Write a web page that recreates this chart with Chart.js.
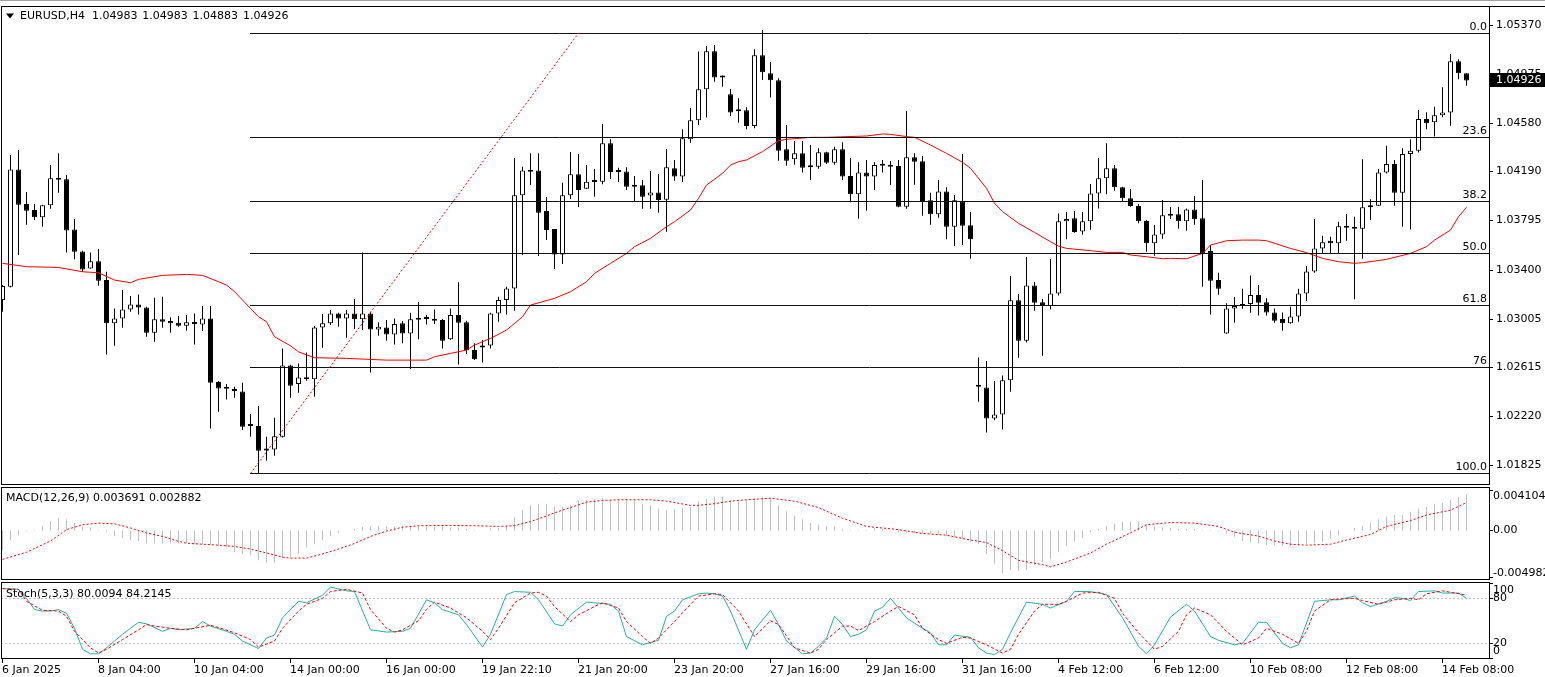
<!DOCTYPE html>
<html>
<head>
<meta charset="utf-8">
<title>EURUSD,H4</title>
<script src="https://cdn.jsdelivr.net/npm/chart.js@4.4.1/dist/chart.umd.min.js"></script>
<style>
  html, body { margin:0; padding:0; background:#ffffff; }
  body { width:1545px; height:677px; position:relative; overflow:hidden; }
  canvas { position:absolute; left:0; display:block; }
  #mainC { top:0; }
  #macdC { top:486px; }
  #stochC { top:580px; }
</style>
</head>
<body>
<canvas id="mainC" width="1545" height="486"></canvas>
<canvas id="macdC" width="1545" height="94"></canvas>
<canvas id="stochC" width="1545" height="97"></canvas>
<script>
// ---------------- DATA ----------------
const symbolText = "EURUSD,H4";
const timeLabels = ["6 Jan 2025","8 Jan 04:00","10 Jan 04:00","14 Jan 00:00","16 Jan 00:00","19 Jan 22:10",
  "21 Jan 20:00","23 Jan 20:00","27 Jan 16:00","29 Jan 16:00","31 Jan 16:00","4 Feb 12:00",
  "6 Feb 12:00","10 Feb 08:00","12 Feb 08:00","14 Feb 08:00"];
const labelEvery = 12;

const openP = [1.03158,1.03266,1.04210,1.03931,1.03883,1.03824,1.03921,1.04138,1.04130,1.03727,
1.03550,1.03413,1.03470,1.03319,1.02971,1.03011,1.03083,1.03123,1.03099,1.02895,
1.03003,1.02989,1.02976,1.02952,1.02981,1.02962,1.03011,1.02498,1.02450,1.02431,
1.02423,1.02149,1.02144,1.01953,1.01956,1.02058,1.02632,1.02482,1.02536,1.02522,
1.02938,1.02971,1.03051,1.03011,1.03051,1.03003,1.03051,1.02922,1.02938,1.02882,
1.02971,1.02890,1.03011,1.03011,1.03003,1.02997,1.02842,1.03038,1.02979,1.02756,
1.02777,1.02793,1.03051,1.03158,1.03252,1.04001,1.04202,1.04202,1.03875,1.03730,
1.03526,1.04001,1.04170,1.04055,1.04114,1.04111,1.04420,1.04194,1.04194,1.04082,
1.04082,1.03999,1.04025,1.03966,1.04219,1.04152,1.04452,1.04605,1.04855,1.05161,
1.04959,1.04814,1.04688,1.04686,1.04559,1.05128,1.04983,1.04927,1.04372,1.04291,
1.04339,1.04237,1.04232,1.04347,1.04264,1.04372,1.04157,1.04009,1.04186,1.04152,
1.04251,1.04245,1.04237,1.03910,1.04307,1.04275,1.03961,1.03848,1.04033,1.03749,
1.03953,1.03760,1.02466,1.02455,1.02206,1.02238,1.02514,1.03156,1.02831,1.03276,
1.03140,1.03110,1.03212,1.03792,1.03816,1.03711,1.03792,1.04017,1.04138,1.04219,
1.04066,1.03977,1.03915,1.03795,1.03615,1.03687,1.03848,1.03848,1.03792,1.03888,
1.03816,1.03553,1.03319,1.02890,1.03091,1.03126,1.03126,1.03199,1.03140,1.03059,
1.03005,1.02971,1.03027,1.03212,1.03389,1.03574,1.03636,1.03615,1.03752,1.03746,
1.03733,1.03915,1.03918,1.04186,1.04253,1.04023,1.04334,1.04361,1.04616,1.04589,
1.04645,1.04667,1.05080,1.04983];

const highP = [1.03279,1.04326,1.04366,1.04028,1.03931,1.03926,1.04245,1.04339,1.04165,1.03811,
1.03556,1.03542,1.03569,1.03387,1.03091,1.03239,1.03191,1.03204,1.03105,1.03177,
1.03185,1.03021,1.03030,1.03038,1.03051,1.03110,1.03110,1.02506,1.02482,1.02461,
1.02493,1.02241,1.02305,1.02058,1.02211,1.02769,1.02638,1.02648,1.02737,1.02949,
1.03046,1.03078,1.03056,1.03078,1.03166,1.03542,1.03064,1.02979,1.02997,1.03011,
1.02989,1.03056,1.03142,1.03038,1.03083,1.03005,1.03091,1.03301,1.02992,1.02810,
1.02836,1.03056,1.03185,1.03266,1.04302,1.04232,1.04339,1.04339,1.03988,1.03730,
1.04103,1.04350,1.04334,1.04245,1.04213,1.04576,1.04452,1.04224,1.04227,1.04157,
1.04125,1.04197,1.04173,1.04374,1.04286,1.04533,1.04704,1.05158,1.05204,1.05212,
1.04965,1.04857,1.04782,1.04710,1.05177,1.05332,1.05075,1.04943,1.04567,1.04439,
1.04439,1.04407,1.04380,1.04353,1.04393,1.04428,1.04302,1.04267,1.04286,1.04267,
1.04286,1.04278,1.04286,1.04680,1.04339,1.04318,1.04023,1.04125,1.04066,1.04004,
1.04334,1.03867,1.02697,1.02667,1.02506,1.02552,1.03352,1.03207,1.03505,1.03303,
1.03166,1.03488,1.03856,1.03867,1.03875,1.03867,1.04092,1.04302,1.04420,1.04245,
1.04071,1.04052,1.03931,1.03803,1.03762,1.03964,1.03907,1.03910,1.03896,1.03996,
1.04125,1.03601,1.03378,1.03132,1.03183,1.03250,1.03357,1.03279,1.03172,1.03091,
1.03059,1.03105,1.03250,1.03432,1.03811,1.03676,1.03668,1.03789,1.03851,1.03829,
1.04291,1.03969,1.04213,1.04401,1.04286,1.04380,1.04452,1.04688,1.04670,1.04715,
1.04871,1.05139,1.05096,1.04983];

const lowP = [1.03064,1.03260,1.03521,1.03765,1.03803,1.03749,1.03894,1.04023,1.03542,1.03486,
1.03387,1.03411,1.03274,1.02721,1.02791,1.02936,1.03064,1.03043,1.02863,1.02823,
1.02936,1.02895,1.02944,1.02911,1.02801,1.02909,1.02125,1.02259,1.02359,1.02372,
1.02112,1.02058,1.01763,1.01865,1.01905,1.02053,1.02372,1.02412,1.02509,1.02380,
1.02775,1.02957,1.02944,1.02855,1.02925,1.02917,1.02576,1.02871,1.02831,1.02801,
1.02810,1.02603,1.02844,1.02962,1.02965,1.02769,1.02836,1.02640,1.02724,1.02675,
1.02656,1.02769,1.02984,1.03043,1.03072,1.03521,1.04084,1.03513,1.03641,1.03408,
1.03448,1.03972,1.03907,1.04052,1.03990,1.04090,1.04133,1.04108,1.04044,1.03956,
1.03894,1.03894,1.03862,1.03709,1.04119,1.04108,1.04425,1.04567,1.04627,1.04916,
1.04876,1.04640,1.04586,1.04533,1.04541,1.04930,1.04788,1.04280,1.04240,1.04248,
1.04186,1.04125,1.04216,1.04253,1.04248,1.04125,1.03945,1.03813,1.03878,1.04044,
1.04184,1.04084,1.03905,1.03894,1.04087,1.03837,1.03765,1.03821,1.03647,1.03593,
1.03601,1.03491,1.02340,1.02093,1.02192,1.02117,1.02420,1.02694,1.02817,1.03072,
1.02710,1.03083,1.03196,1.03647,1.03701,1.03685,1.03725,1.03896,1.04009,1.04039,
1.03956,1.03910,1.03776,1.03548,1.03515,1.03652,1.03811,1.03733,1.03717,1.03765,
1.03266,1.03043,1.03201,1.02887,1.02976,1.03089,1.03056,1.03035,1.03035,1.02976,
1.02911,1.02968,1.02984,1.03150,1.03378,1.03534,1.03534,1.03534,1.03636,1.03164,
1.03491,1.03803,1.03915,1.04176,1.03918,1.03749,1.03727,1.04345,1.04533,1.04474,
1.04629,1.04562,1.04935,1.04883];

const closeP = [1.03271,1.04210,1.03926,1.03878,1.03824,1.03921,1.04138,1.04127,1.03719,1.03548,
1.03405,1.03470,1.03314,1.02971,1.03011,1.03083,1.03123,1.03099,1.02895,1.03003,
1.02984,1.02971,1.02952,1.02979,1.02965,1.03011,1.02493,1.02447,1.02444,1.02426,
1.02138,1.02144,1.01945,1.01948,1.02063,1.02632,1.02469,1.02536,1.02522,1.02938,
1.02971,1.03051,1.03011,1.03051,1.03003,1.03051,1.02922,1.02944,1.02882,1.02965,
1.02890,1.03003,1.03000,1.03005,1.02992,1.02831,1.03038,1.02976,1.02756,1.02683,
1.02793,1.03051,1.03158,1.03252,1.04001,1.04202,1.04192,1.03862,1.03722,1.03526,
1.04001,1.04170,1.04044,1.04111,1.04108,1.04420,1.04189,1.04189,1.04071,1.04071,
1.03990,1.04025,1.03964,1.04227,1.04152,1.04460,1.04605,1.04855,1.05161,1.04949,
1.04949,1.04667,1.04677,1.04559,1.05128,1.04992,1.04927,1.04361,1.04280,1.04339,
1.04224,1.04227,1.04347,1.04264,1.04372,1.04152,1.04009,1.04186,1.04152,1.04245,
1.04240,1.04232,1.03910,1.04307,1.04272,1.03956,1.03848,1.04033,1.03749,1.03961,
1.03757,1.03647,1.02461,1.02206,1.02238,1.02514,1.03156,1.02831,1.03276,1.03137,
1.03110,1.03212,1.03792,1.03811,1.03706,1.03792,1.04017,1.04138,1.04219,1.04066,
1.03977,1.03915,1.03792,1.03615,1.03687,1.03840,1.03837,1.03792,1.03888,1.03808,
1.03534,1.03314,1.03250,1.03091,1.03110,1.03110,1.03199,1.03137,1.03059,1.02992,
1.02971,1.03027,1.03212,1.03389,1.03574,1.03623,1.03615,1.03752,1.03741,1.03733,
1.03905,1.03905,1.04186,1.04253,1.04023,1.04334,1.04361,1.04616,1.04581,1.04645,
1.04667,1.05080,1.04983,1.04926];

// moving average (red line) read at these bars
const maIdx = [0,3,7,10,12,14,16,17,20,23,25,27,28,29,31,32,33,34,36,37,39,43,48,53,54,56,58,59,61,63,
65,66,69,71,73,74,76,78,79,81,83,84,86,87,88,90,91,92,93,95,97,98,101,103,108,110,111,113,114,116,
118,120,121,123,124,125,127,129,131,132,133,136,138,140,141,143,145,146,148,150,151,153,155,157,158,161,
163,165,167,169,170,173,176,178,179,181,182,183];
const maVal = [1.03454,1.03427,1.03421,1.03386,1.03378,1.03319,1.03298,1.03325,1.03357,1.03365,
1.03357,1.03306,1.03279,1.03226,1.03091,1.03024,1.02984,1.02863,1.02790,1.02742,
1.02694,1.02689,1.02675,1.02675,1.02702,1.02729,1.02756,1.02796,1.02850,1.02917,
1.03024,1.03118,1.03172,1.03226,1.03306,1.03373,1.03454,1.03534,1.03588,1.03655,
1.03749,1.03789,1.03883,1.03977,1.04084,1.04178,1.04245,1.04272,1.04286,1.04353,
1.04441,1.04452,1.04468,1.04468,1.04479,1.04495,1.04492,1.04474,1.04468,1.04406,
1.04339,1.04267,1.04219,1.04058,1.03937,1.03870,1.03776,1.03703,1.03628,1.03593,
1.03574,1.03556,1.03542,1.03542,1.03521,1.03507,1.03491,1.03494,1.03491,1.03534,
1.03601,1.03636,1.03641,1.03641,1.03636,1.03574,1.03540,1.03494,1.03467,1.03454,
1.03459,1.03486,1.03534,1.03588,1.03641,1.03722,1.03829,1.03905];

// Fibonacci retracement
const fibHigh = 1.05306, fibLow = 1.01763;
const fibStartBar = 31, fibEndBar = 72;
const fibLevels = [0, 23.6, 38.2, 50, 61.8, 76, 100];
const fibTexts = ["0.0", "23.6", "38.2", "50.0", "61.8", "76", "100.0"];

const priceTicks = [1.05370,1.04975,1.04580,1.04190,1.03795,1.03400,1.03005,1.02615,1.02220,1.01825];

// MACD(12,26,9)
const macdHist = [-0.00206,-0.00097,-0.00050,-0.00007,0.00010,0.00050,0.00100,0.00127,0.00117,0.00077,
0.00043,0.00033,0.00010,-0.00013,-0.00057,-0.00073,-0.00097,-0.00107,-0.00133,-0.00133,
-0.00133,-0.00133,-0.00133,-0.00133,-0.00133,-0.00140,-0.00140,-0.00157,-0.00173,-0.00223,
-0.00240,-0.00256,-0.00306,-0.00330,-0.00330,-0.00283,-0.00273,-0.00233,-0.00173,-0.00140,
-0.00097,-0.00057,-0.00023,0.00000,0.00017,0.00037,0.00040,0.00050,0.00043,0.00043,
0.00050,0.00043,0.00043,0.00037,0.00037,0.00043,0.00033,0.00027,0.00017,0.00010,
0.00003,0.00023,0.00027,0.00043,0.00137,0.00210,0.00260,0.00276,0.00276,0.00250,
0.00243,0.00260,0.00310,0.00316,0.00326,0.00333,0.00316,0.00326,0.00326,0.00316,
0.00276,0.00260,0.00226,0.00210,0.00220,0.00233,0.00243,0.00303,0.00326,0.00350,
0.00350,0.00310,0.00303,0.00310,0.00336,0.00350,0.00333,0.00260,0.00200,0.00153,
0.00117,0.00077,0.00060,0.00043,0.00043,0.00020,0.00010,0.00010,0.00007,0.00027,
0.00020,0.00010,-0.00023,-0.00017,-0.00030,-0.00030,-0.00030,-0.00040,-0.00057,-0.00073,
-0.00090,-0.00117,-0.00140,-0.00240,-0.00340,-0.00440,-0.00406,-0.00416,-0.00406,-0.00356,
-0.00323,-0.00296,-0.00223,-0.00157,-0.00113,-0.00073,-0.00017,0.00017,0.00050,0.00070,
0.00093,0.00093,0.00093,0.00060,0.00043,0.00033,0.00027,0.00017,0.00017,0.00017,
0.00010,0.00010,-0.00007,-0.00030,-0.00063,-0.00107,-0.00123,-0.00133,-0.00147,-0.00150,
-0.00157,-0.00163,-0.00157,-0.00140,-0.00130,-0.00117,-0.00083,-0.00050,0.00000,0.00027,
0.00050,0.00083,0.00117,0.00143,0.00160,0.00160,0.00193,0.00226,0.00243,0.00276,
0.00283,0.00316,0.00343,0.003691];
const sigIdx = [0,3,6,8,10,12,14,16,18,20,22,23,25,27,29,31,33,35,36,38,40,42,44,46,48,50,52,56,59,62,
64,66,68,69,71,73,75,77,81,83,86,87,89,91,93,96,99,102,105,108,112,115,118,121,123,125,127,130,131,133,
136,138,141,143,146,149,152,154,157,159,161,163,166,168,171,173,176,178,181,183];
const sigVal = [-0.00296,-0.00223,-0.00107,0.00010,0.00060,0.00077,0.00070,0.00027,-0.00023,-0.00060,
-0.00110,-0.00130,-0.00140,-0.00150,-0.00163,-0.00190,-0.00230,-0.00273,-0.00283,-0.00283,
-0.00240,-0.00190,-0.00133,-0.00060,-0.00005,0.00035,0.00050,0.00053,0.00050,0.00043,
0.00050,0.00093,0.00150,0.00183,0.00237,0.00293,0.00310,0.00317,0.00317,0.00303,
0.00260,0.00260,0.00277,0.00303,0.00317,0.00333,0.00303,0.00237,0.00127,0.00043,
0.00010,-0.00030,-0.00047,-0.00097,-0.00123,-0.00207,-0.00306,-0.00350,-0.00373,-0.00323,
-0.00230,-0.00140,-0.00023,0.00060,0.00083,0.00077,0.00043,-0.00017,-0.00057,-0.00107,
-0.00140,-0.00150,-0.00140,-0.00097,-0.00040,0.00043,0.00103,0.00160,0.00210,0.002882];
const macdAxisLabels = [0.004104, 0, -0.004982];

// Stochastic(5,3,3)
const stIdx = [0,2,3,4,5,6,7,8,9,10,11,12,13,14,15,16,17,18,20,21,22,24,25,26,28,29,30,32,33,34,
35,37,38,40,41,43,44,46,48,50,51,53,54,55,57,58,60,61,63,64,66,67,69,70,71,73,74,76,77,78,
80,82,83,84,85,87,88,89,90,91,93,94,96,97,98,100,101,102,103,104,105,106,107,108,109,110,111,112,113,115,
116,117,118,119,121,122,123,124,125,126,128,130,131,133,134,136,138,140,142,143,144,146,148,149,151,152,154,155,157,158,
160,161,162,164,166,167,169,170,171,173,174,175,176,177,179,180,182,183];
const stVal = [93,92,80,65,63,63,65,60,40,12,6,6,14,23,32,40,48,46,36,40,
38,40,49,43,36,32,23,13,27,31,54,76,74,84,95,90,89,38,35,36,
40,78,74,65,58,45,15,32,85,89,88,78,46,43,58,75,74,72,63,29,
18,24,56,63,78,86,87,86,83,63,12,38,64,45,23,6,7,16,27,56,
45,29,32,38,63,68,80,67,54,40,34,18,18,31,28,14,7,5,12,34,
75,72,67,76,89,89,85,54,16,6,18,55,72,63,29,24,18,20,48,48,
20,14,18,76,78,78,83,74,69,76,81,80,77,89,90,87,87,80.0094];
const ssIdx = [0,2,3,5,7,8,9,11,12,13,15,17,18,19,21,23,24,26,27,29,31,32,34,35,37,38,40,41,43,45,
46,48,49,50,52,53,54,56,58,60,61,62,64,66,67,68,69,71,72,74,75,77,78,80,81,82,84,86,87,89,
90,92,94,96,97,98,99,101,102,103,105,106,107,109,111,112,114,115,117,118,120,121,123,125,126,127,129,130,132,133,
135,137,139,140,142,144,145,147,148,149,151,153,155,157,158,160,162,163,164,166,167,169,170,172,174,176,177,178,180,181,183];
const ssVal = [93,92,76,64,63,56,36,14,7,12,25,38,45,43,40,38,40,44,41,34,
25,15,23,40,63,72,80,89,92,87,65,40,35,38,50,65,75,67,54,36,
25,40,74,87,88,83,69,49,58,69,74,67,49,29,20,27,49,72,83,86,
85,63,29,50,45,30,14,7,12,25,43,43,37,49,63,69,58,40,25,20,
28,27,18,7,12,32,63,72,72,76,87,88,80,60,34,12,16,36,58,67,
58,36,18,27,40,32,20,36,63,78,79,80,77,72,78,80,78,86,90,88,84.2145];
const stochAxisLabels = [100, 80, 20, 0];
const stochLevels = [80, 20];

// ---------------- RENDERING ----------------
const FONT = '11px "DejaVu Sans", "Liberation Sans", sans-serif';
const X_MIN = -0.1875, X_MAX = 185.8125;
const PRICE_MIN = 1.01670, PRICE_MAX = 1.05525;
const MACD_MIN = -0.00498, MACD_MAX = 0.00428;
const LAST = closeP.length - 1;
const fibPrice = l => fibHigh - (fibHigh - fibLow) * l / 100;

function commonOptions(yMin, yMax, pad) {
  return {
    responsive: false, maintainAspectRatio: false, animation: false, devicePixelRatio: 1,
    events: [],
    layout: { padding: pad },
    plugins: { legend: { display: false }, tooltip: { enabled: false } },
    scales: {
      x: { type: 'linear', min: X_MIN, max: X_MAX, display: false, offset: false, bounds: 'data', grid: { display: false } },
      y: { type: 'linear', min: yMin, max: yMax, display: false, beginAtZero: false, bounds: 'data' }
    }
  };
}
function whiteBg(chart) {
  const c = chart.ctx; c.save(); c.fillStyle = '#ffffff'; c.fillRect(0, 0, chart.width, chart.height); c.restore();
}

// ---- main price pane ----
const mainDeco = {
  id: 'mainDeco',
  beforeDraw: whiteBg,
  afterDatasetsDraw(chart) {
    const { ctx, chartArea: a, scales: { x, y } } = chart;
    ctx.save();
    ctx.beginPath(); ctx.rect(a.left, a.top, a.right - a.left, a.bottom - a.top); ctx.clip();
    ctx.lineWidth = 1; ctx.strokeStyle = '#111111';
    const xs = Math.round(x.getPixelForValue(fibStartBar));
    fibLevels.forEach(l => {
      const py = Math.floor(y.getPixelForValue(fibPrice(l))) + 0.5;
      ctx.beginPath(); ctx.moveTo(xs, py); ctx.lineTo(a.right, py); ctx.stroke();
    });
    ctx.strokeStyle = '#ff0000'; ctx.setLineDash([2, 2]);
    ctx.beginPath();
    ctx.moveTo(x.getPixelForValue(fibStartBar), y.getPixelForValue(fibLow));
    ctx.lineTo(x.getPixelForValue(fibEndBar), y.getPixelForValue(fibHigh));
    ctx.stroke();
    ctx.restore();
  },
  afterDraw(chart) {
    const { ctx, chartArea: a, scales: { y } } = chart;
    ctx.save();
    ctx.fillStyle = '#a0a0a0'; ctx.fillRect(0, 0, chart.width, 1);
    ctx.strokeStyle = '#000'; ctx.lineWidth = 1;
    ctx.strokeRect(a.left + 0.5, a.top + 0.5, a.right - a.left, a.bottom - a.top - 1);
    ctx.beginPath(); ctx.moveTo(a.right, a.top + 0.5); ctx.lineTo(chart.width, a.top + 0.5); ctx.stroke();
    ctx.font = FONT; ctx.fillStyle = '#000'; ctx.textAlign = 'left'; ctx.textBaseline = 'middle';
    priceTicks.forEach(v => {
      const py = Math.floor(y.getPixelForValue(v)) + 0.5;
      ctx.beginPath(); ctx.moveTo(a.right + 1, py); ctx.lineTo(a.right + 4, py); ctx.stroke();
      ctx.fillText(v.toFixed(5), a.right + 7, py);
    });
    ctx.textAlign = 'right'; ctx.textBaseline = 'alphabetic';
    fibLevels.forEach((l, k) => {
      const py = Math.floor(y.getPixelForValue(fibPrice(l)));
      ctx.fillText(fibTexts[k], a.right - 2, py - 3);
    });
    const last = closeP[LAST];
    const cy = Math.round(y.getPixelForValue(last));
    ctx.fillStyle = '#000';
    ctx.fillRect(a.right + 1, cy - 7, chart.width - a.right - 1, 14);
    ctx.fillStyle = '#fff'; ctx.textAlign = 'left'; ctx.textBaseline = 'middle';
    ctx.fillText(last.toFixed(5), a.right + 7, cy);
    ctx.fillStyle = '#000';
    ctx.beginPath(); ctx.moveTo(6, 13.5); ctx.lineTo(14, 13.5); ctx.lineTo(10, 18.5); ctx.closePath(); ctx.fill();
    ctx.fillText(symbolText, 20, 16.5);
    [openP[LAST], highP[LAST], lowP[LAST], closeP[LAST]].forEach((v, k) => {
      ctx.fillText(v.toFixed(5), 92 + k * 50.3, 16.5);
    });
    ctx.restore();
  }
};

const bars = closeP.map((c, i) => i);
new Chart(document.getElementById('mainC'), {
  type: 'bar',
  data: {
    datasets: [
      { type: 'bar', data: bars.map(i => ({ x: i, y: [lowP[i], highP[i]] })),
        backgroundColor: '#000', borderWidth: 0, barThickness: 1, maxBarThickness: 1,
        grouped: false, inflateAmount: 0, order: 3 },
      { type: 'bar', data: bars.map(i => ({ x: i, y: [openP[i], closeP[i]] })),
        backgroundColor: bars.map(i => closeP[i] >= openP[i] ? '#ffffff' : '#000000'),
        borderColor: '#000', borderWidth: 1, borderSkipped: false, minBarLength: 2,
        barThickness: 5, maxBarThickness: 5, grouped: false, inflateAmount: 0, order: 2 },
      { type: 'line', data: maIdx.map((x, k) => ({ x, y: maVal[k] })),
        borderColor: '#ff0000', borderWidth: 1, pointRadius: 0, pointHoverRadius: 0, tension: 0, fill: false, order: 1 }
    ]
  },
  options: commonOptions(PRICE_MIN, PRICE_MAX, { left: 1, right: 56, top: 6, bottom: 1 }),
  plugins: [mainDeco]
});

// ---- MACD pane ----
const macdDeco = {
  id: 'macdDeco',
  beforeDraw: whiteBg,
  afterDraw(chart) {
    const { ctx, chartArea: a, scales: { y } } = chart;
    ctx.save();
    ctx.strokeStyle = '#000'; ctx.lineWidth = 1;
    ctx.strokeRect(a.left + 0.5, 1.5, a.right - a.left, chart.height - 2);
    ctx.font = FONT; ctx.fillStyle = '#000'; ctx.textAlign = 'left'; ctx.textBaseline = 'middle';
    ctx.fillText('MACD(12,26,9) ' + macdHist[LAST].toFixed(6) + ' ' + sigVal[sigVal.length - 1].toFixed(6), 6, 12.5);
    macdAxisLabels.forEach((v, k) => {
      const p = y.getPixelForValue(v);
      const off = k === 0 ? 6 : (k === macdAxisLabels.length - 1 ? -6 : 0);
      const tk = Math.min(Math.floor(p), chart.height - 3) + 0.5;
      ctx.beginPath(); ctx.moveTo(a.right + 1, tk); ctx.lineTo(a.right + 4, tk); ctx.stroke();
      ctx.fillText(v === 0 ? '0.00' : v.toFixed(6), a.right + 4, Math.floor(p + off) + 0.5);
    });
    ctx.restore();
  }
};
new Chart(document.getElementById('macdC'), {
  type: 'bar',
  data: {
    datasets: [
      { type: 'bar', data: macdHist.map((v, i) => ({ x: i, y: v })),
        backgroundColor: '#c0c0c0', borderWidth: 0, barThickness: 1, maxBarThickness: 1,
        grouped: false, inflateAmount: 0, order: 2 },
      { type: 'line', data: sigIdx.map((x, k) => ({ x, y: sigVal[k] })),
        borderColor: '#ff0000', borderWidth: 1, borderDash: [2, 2], pointRadius: 0, pointHoverRadius: 0,
        tension: 0, fill: false, order: 1 }
    ]
  },
  options: commonOptions(MACD_MIN, MACD_MAX, { left: 1, right: 56, top: 3, bottom: 1 }),
  plugins: [macdDeco]
});

// ---- Stochastic pane + time axis ----
const stochDeco = {
  id: 'stochDeco',
  beforeDraw: whiteBg,
  beforeDatasetsDraw(chart) {
    const { ctx, chartArea: a, scales: { y } } = chart;
    ctx.save();
    ctx.strokeStyle = '#c0c0c0'; ctx.lineWidth = 1; ctx.setLineDash([2, 2]);
    stochLevels.forEach(v => {
      const py = Math.floor(y.getPixelForValue(v)) + 0.5;
      ctx.beginPath(); ctx.moveTo(a.left, py); ctx.lineTo(a.right, py); ctx.stroke();
    });
    ctx.restore();
  },
  afterDraw(chart) {
    const { ctx, chartArea: a, scales: { x, y } } = chart;
    ctx.save();
    ctx.strokeStyle = '#000'; ctx.lineWidth = 1;
    ctx.strokeRect(a.left + 0.5, 2.5, a.right - a.left, 76);
    ctx.font = FONT; ctx.fillStyle = '#000'; ctx.textAlign = 'left'; ctx.textBaseline = 'middle';
    ctx.fillText('Stoch(5,3,3) ' + stVal[stVal.length - 1].toFixed(4) + ' ' + ssVal[ssVal.length - 1].toFixed(4), 6, 14.5);
    stochAxisLabels.forEach((v, k) => {
      const p = y.getPixelForValue(v);
      const off = k === 0 ? 7.5 : (k === stochAxisLabels.length - 1 ? -6.5 : 0);
      const tk = Math.floor(p) + 0.5;
      ctx.beginPath(); ctx.moveTo(a.right + 1, tk); ctx.lineTo(a.right + 4, tk); ctx.stroke();
      ctx.fillText(String(v), a.right + 4, Math.floor(p + off) + 0.5);
    });
    timeLabels.forEach((t, k) => {
      const px = x.getPixelForValue(k * labelEvery);
      const tx = Math.floor(px) + 0.5;
      ctx.beginPath(); ctx.moveTo(tx, 79); ctx.lineTo(tx, 83); ctx.stroke();
      ctx.fillText(t, Math.floor(px), 90.5);
    });
    ctx.restore();
  }
};
new Chart(document.getElementById('stochC'), {
  type: 'line',
  data: {
    datasets: [
      { data: stIdx.map((x, k) => ({ x, y: stVal[k] })), borderColor: '#20b2aa', borderWidth: 1,
        pointRadius: 0, pointHoverRadius: 0, tension: 0, fill: false, order: 2 },
      { data: ssIdx.map((x, k) => ({ x, y: ssVal[k] })), borderColor: '#ff0000', borderWidth: 1,
        borderDash: [3, 2], pointRadius: 0, pointHoverRadius: 0, tension: 0, fill: false, order: 1 }
    ]
  },
  options: commonOptions(0, 100, { left: 1, right: 56, top: 3.3, bottom: 18.7 }),
  plugins: [stochDeco]
});
</script>
</body>
</html>
